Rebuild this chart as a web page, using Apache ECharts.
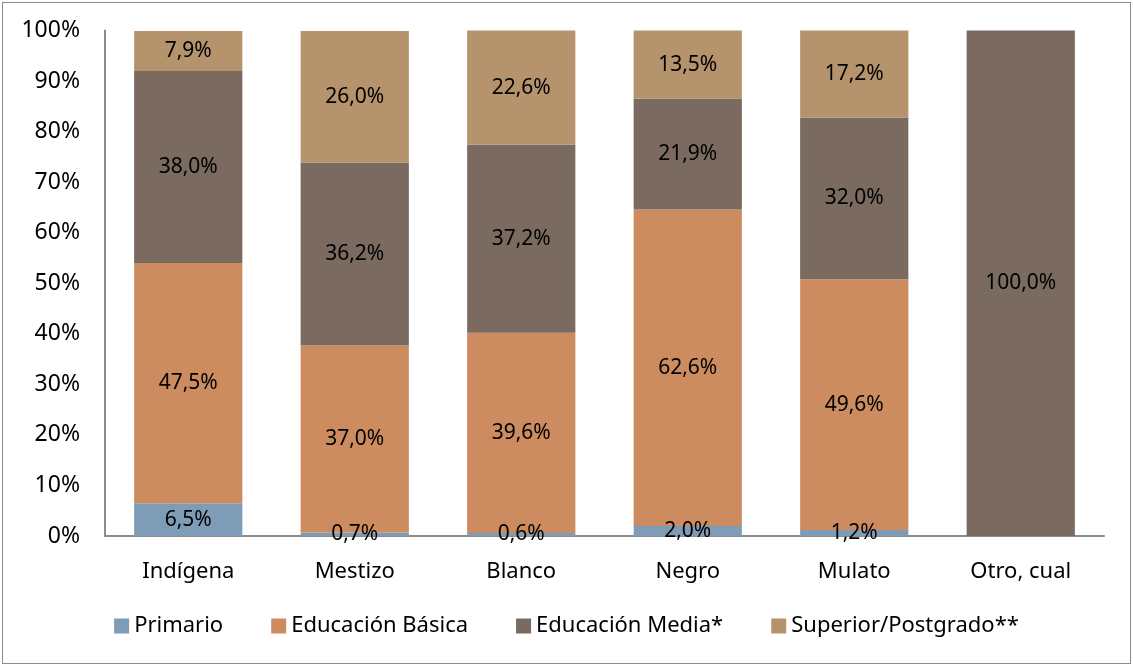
<!DOCTYPE html>
<html>
<head>
<meta charset="utf-8">
<script src="https://cdn.jsdelivr.net/npm/echarts@6/dist/echarts.min.js"></script>
<style>
  html, body { margin: 0; padding: 0; background: #fff; }
  #frame {
    position: absolute; left: 2px; top: 2px;
    width: 1127px; height: 660px;
    border: 1.5px solid #8c8c8c;
  }
  #chart { position: absolute; left: 0; top: 0; width: 1133px; height: 666px; }
</style>
</head>
<body>
<div id="frame"></div>
<div id="chart"></div>
<script>
const categories = ['Indígena', 'Mestizo', 'Blanco', 'Negro', 'Mulato', 'Otro, cual']
const primario = [6.5, 0.7, 0.6, 2.0, 1.2, 0]
const basica = [47.5, 37.0, 39.6, 62.6, 49.6, 0]
const media = [38.0, 36.2, 37.2, 21.9, 32.0, 100.0]
const superior = [7.9, 26.0, 22.6, 13.5, 17.2, 0]
const yTicks = [0, 10, 20, 30, 40, 50, 60, 70, 80, 90, 100]

const font = 'Noto Sans'
const chart = echarts.init(document.getElementById('chart'))

function makeSeries(name, data, color) {
  return {
    name,
    type: 'bar',
    stack: 'total',
    barWidth: '65%',
    data,
    itemStyle: { color },
    label: {
      show: true,
      position: 'inside',
      color: '#000',
      fontFamily: font,
      fontSize: 21,
      formatter: p => p.value ? p.value.toFixed(1).replace('.', ',') + '%' : ''
    },
    emphasis: { disabled: true }
  }
}

chart.setOption({
  animation: false,
  backgroundColor: 'transparent',
  grid: { left: 105, right: 29, top: 30.5, bottom: 130 },
  legend: {
    bottom: 24,
    left: 'center',
    itemWidth: 15,
    itemHeight: 15,
    itemGap: 48,
    icon: 'rect',
    textStyle: { fontFamily: font, fontSize: 22, color: '#000' },
    data: ['Primario', 'Educación Básica', 'Educación Media*', 'Superior/Postgrado**']
  },
  xAxis: {
    type: 'category',
    data: categories,
    axisLine: { lineStyle: { color: '#8c8c8c', width: 2 } },
    axisTick: { show: false },
    axisLabel: { color: '#000', fontFamily: font, fontSize: 22, margin: 25 }
  },
  yAxis: {
    type: 'value',
    min: yTicks[0],
    max: yTicks[yTicks.length - 1],
    interval: 10,
    axisLine: { show: true, lineStyle: { color: '#8c8c8c', width: 2 } },
    axisTick: { show: false },
    splitLine: { show: false },
    axisLabel: { color: '#000', fontFamily: font, fontSize: 23, margin: 25, formatter: '{value}%' }
  },
  series: [
    makeSeries('Primario', primario, '#7f9cb6'),
    makeSeries('Educación Básica', basica, '#cd8c5f'),
    makeSeries('Educación Media*', media, '#7a6a5f'),
    makeSeries('Superior/Postgrado**', superior, '#b5936c')
  ]
})
</script>
</body>
</html>
